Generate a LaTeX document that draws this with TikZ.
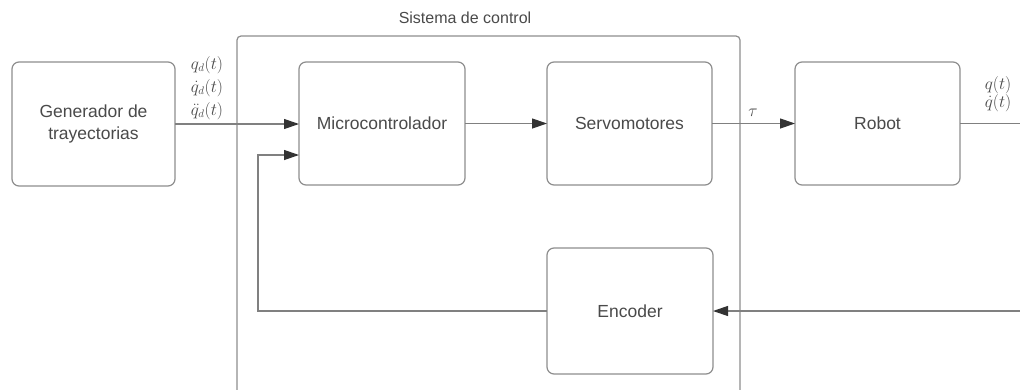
\documentclass[tikz,border=0pt]{standalone}
\usepackage{fontspec}
\setmainfont{Liberation Sans}
\usetikzlibrary{arrows.meta}
\definecolor{boxgray}{HTML}{8E8E8E}
\definecolor{wiregray}{HTML}{808080}
\definecolor{tipgray}{HTML}{333333}
\definecolor{txtgray}{HTML}{4A4A4A}
\begin{document}
\begin{tikzpicture}[x=1pt,y=-1pt,
  blk/.style={draw=boxgray, line width=1.2pt, rounded corners=7pt,
    align=center, text=txtgray, font=\fontsize{17.5}{22}\selectfont,
    inner sep=0pt, outer sep=0pt},
  wire/.style={draw=wiregray, line width=1.2pt},
  arr/.style={wire, -{Triangle[length=15pt,width=10pt,fill=tipgray,color=tipgray]}},
  sig/.style={text=txtgray, inner sep=0pt, align=center}]
\useasboundingbox (0,0) rectangle (1020,389);
\fill[white] (0,0) rectangle (1020,389);

% control system frame (open at the bottom)
\draw[boxgray, line width=1.2pt, rounded corners=4pt]
  (237,400) -- (237,36) -- (740,36) -- (740,400);
\node[text=txtgray, font=\fontsize{16}{19}\selectfont] (title) at (465,18) {Sistema de control};

% blocks
\node[blk, minimum width=163pt, minimum height=124pt] (gen) at (93.5,124) {Generador de\\trayectorias};
\node[blk, minimum width=166pt, minimum height=123pt] (micro) at (382,123.5) {Microcontrolador};
\node[blk, minimum width=165pt, minimum height=123pt] (servo) at (629.5,123.5) {Servomotores};
\node[blk, minimum width=165pt, minimum height=123pt] (robot) at (877.5,123.5) {Robot};
\node[blk, minimum width=166pt, minimum height=126pt] (enc) at (630,311) {Encoder};

% signal labels (stacked references and measured joint states)
\node[sig, font=\fontsize{16}{23}\selectfont] (qref) at (207,88)
  {$q_d(t)$\\$\dot{q}_d(t)$\\$\ddot{q}_d(t)$};
\node[sig, font=\fontsize{16}{18}\selectfont] (tau) at (753,113) {$\tau$};
\node[sig, font=\fontsize{16}{18}\selectfont] (qout) at (998,94.5)
  {$q(t)$\\$\dot{q}(t)$};

% connectors
\draw[arr] (gen.east) -- (gen.east -| micro.west);
\draw[arr] (micro.east) -- (servo.west);
\draw[arr] (servo.east) -- (robot.west);
\coordinate (rout) at (1025,123.5);
\draw[wire] (robot.east) -- (rout);
\coordinate (rin) at (1025,311);
\draw[arr] (rin) -- (enc.east);
\coordinate (fb) at (258,155);
\draw[arr] (enc.west) -| (fb) -- (fb -| micro.west);
\end{tikzpicture}
\end{document}
